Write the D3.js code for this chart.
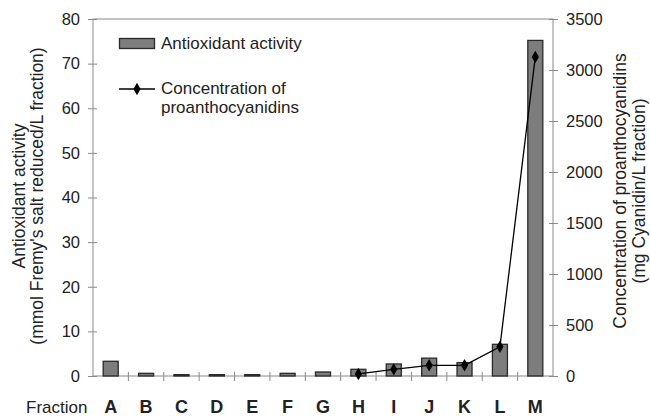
<!DOCTYPE html>
<html>
<head>
<meta charset="utf-8">
<script src="https://cdn.jsdelivr.net/npm/d3@7"></script>
<style>
  body { margin: 0; background: #fff; }
  text { font-family: "Liberation Sans", Arial, sans-serif; fill: #222; }
</style>
</head>
<body>
<div id="chart"></div>
<script>
const fractions = ["A", "B", "C", "D", "E", "F", "G", "H", "I", "J", "K", "L", "M"];
const activity = [3.3, 0.6, 0.3, 0.3, 0.3, 0.6, 0.9, 1.5, 2.7, 4.0, 3.0, 7.1, 75.2];
const proanthoFractions = ["H", "I", "J", "K", "L", "M"];
const proantho = [20, 65, 105, 105, 287, 3128];
const leftTicks = [0, 10, 20, 30, 40, 50, 60, 70, 80];
const rightTicks = [0, 500, 1000, 1500, 2000, 2500, 3000, 3500];

const W = 650, H = 418;
const margin = { top: 19, right: 97, bottom: 42, left: 93 };
const width = W - margin.left - margin.right,
    height = H - margin.top - margin.bottom;

const svg = d3.select("#chart").append("svg")
    .attr("width", W).attr("height", H);
const g = svg.append("g").attr("transform", `translate(${margin.left},${margin.top})`);

const x = d3.scaleBand().domain(fractions).range([0, width]).padding(0);
const yL = d3.scaleLinear().domain([0, 80]).range([height, 0]);
const yR = d3.scaleLinear().domain([0, 3500]).range([height, 0]);

const axisCol = "#8a8a8a";

// plot frame
g.append("rect")
    .attr("width", width).attr("height", height)
    .attr("fill", "none").attr("stroke", axisCol).attr("stroke-width", 1);

// left axis
const la = g.append("g").call(d3.axisLeft(yL).tickValues(leftTicks).tickSize(0).tickPadding(13));
la.select(".domain").remove();
la.selectAll("text").style("font-size", "16.5px").attr("fill", "#222");
g.selectAll(".ltick").data(leftTicks).enter().append("line")
    .attr("x1", -5).attr("x2", 4)
    .attr("y1", d => yL(d) + 0.5).attr("y2", d => yL(d) + 0.5)
    .attr("stroke", axisCol);

// right axis
const ra = g.append("g").attr("transform", `translate(${width},0)`)
    .call(d3.axisRight(yR).tickValues(rightTicks).tickSize(0).tickPadding(13).tickFormat(d3.format("d")));
ra.select(".domain").remove();
ra.selectAll("text").style("font-size", "16.5px").attr("fill", "#222");
g.selectAll(".rtick").data(rightTicks).enter().append("line")
    .attr("x1", width - 4).attr("x2", width + 5)
    .attr("y1", d => yR(d) + 0.5).attr("y2", d => yR(d) + 0.5)
    .attr("stroke", axisCol);

// x ticks between categories
const bounds = fractions.slice(1).map(f => x(f));
g.selectAll(".xtick").data(bounds).enter().append("line")
    .attr("x1", d => d).attr("x2", d => d)
    .attr("y1", height - 4).attr("y2", height + 5)
    .attr("stroke", axisCol);

// category labels
g.selectAll(".xlab").data(fractions).enter().append("text")
    .attr("x", d => x(d) + x.bandwidth() / 2)
    .attr("y", height + 37)
    .attr("text-anchor", "middle")
    .style("font-size", "18px").style("font-weight", "bold")
    .text(d => d);

svg.append("text")
    .attr("x", 26).attr("y", height + margin.top + 37)
    .style("font-size", "17px")
    .text("Fraction");

// bars
const bw = 15;
g.selectAll(".bar").data(fractions).enter().append("rect")
    .attr("x", d => x(d) + x.bandwidth() / 2 - bw / 2)
    .attr("y", (d, i) => yL(activity[i]))
    .attr("width", bw)
    .attr("height", (d, i) => height - yL(activity[i]))
    .attr("fill", "#7d7d7d").attr("stroke", "#2a2a2a").attr("stroke-width", 1.3);

// line
const line = d3.line()
    .x((d, i) => x(proanthoFractions[i]) + x.bandwidth() / 2)
    .y(d => yR(d));
g.append("path").datum(proantho)
    .attr("d", line).attr("fill", "none").attr("stroke", "#000").attr("stroke-width", 1.3);
const diamond = d3.symbol().type(d3.symbolDiamond).size(45);
g.selectAll(".pt").data(proantho).enter().append("path")
    .attr("d", diamond)
    .attr("transform", (d, i) => `translate(${x(proanthoFractions[i]) + x.bandwidth() / 2},${yR(d)})`)
    .attr("fill", "#000");

// legend
const lg = svg.append("g");
lg.append("rect").attr("x", 119.5).attr("y", 38.5).attr("width", 35).attr("height", 10)
    .attr("fill", "#7d7d7d").attr("stroke", "#2a2a2a").attr("stroke-width", 1.3);
lg.append("text").attr("x", 161).attr("y", 49).style("font-size", "17px").text("Antioxidant activity");
lg.append("line").attr("x1", 119).attr("x2", 155).attr("y1", 89).attr("y2", 89)
    .attr("stroke", "#000").attr("stroke-width", 1.3);
lg.append("path").attr("d", diamond).attr("transform", "translate(137,89)").attr("fill", "#000");
lg.append("text").attr("x", 161).attr("y", 94).style("font-size", "17px").text("Concentration of");
lg.append("text").attr("x", 161).attr("y", 113).style("font-size", "17px").text("proanthocyanidins");

// axis titles
const lt = svg.append("text")
    .attr("transform", `translate(25,196) rotate(-90)`)
    .attr("text-anchor", "middle").style("font-size", "17.5px");
lt.append("tspan").attr("x", 0).attr("dy", 0).text("Antioxidant activity");
lt.append("tspan").attr("x", 0).attr("dy", 18).text("(mmol Fremy's salt reduced/L fraction)");

const rt = svg.append("text")
    .attr("transform", `translate(626,191) rotate(-90)`)
    .attr("text-anchor", "middle").style("font-size", "17.5px");
rt.append("tspan").attr("x", 0).attr("dy", 0).text("Concentration of proanthocyanidins");
rt.append("tspan").attr("x", 0).attr("dy", 19).text("(mg Cyanidin/L fraction)");
</script>
</body>
</html>
